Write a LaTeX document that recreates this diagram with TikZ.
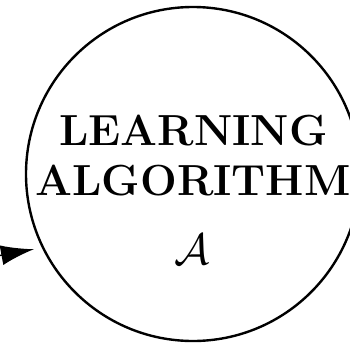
\RequirePackage{fix-cm}
\documentclass[tikz,border=0pt]{standalone}
\usetikzlibrary{arrows.meta}
\tikzset{
  algcircle/.style={circle, draw=black, line width=2.4pt, minimum size=334pt, inner sep=0pt},
  bigword/.style={anchor=base, inner sep=0pt, font=\fontsize{43.5}{52}\selectfont\bfseries},
  calword/.style={anchor=base, inner sep=0pt, font=\fontsize{44}{52}\selectfont},
  inarrow/.style={line width=1.4pt, -{Latex[length=33pt,width=20pt]}, shorten >=8pt}
}
\begin{document}
\begin{tikzpicture}[x=1pt,y=-1pt]
\useasboundingbox (0,0) rectangle (350,348);
\clip (0,0) rectangle (350,348);
\node[algcircle] (alg) at (193,174) {};
\node[bigword] (l1) at (193.5,145) {LEARNING};
\node[bigword] (l2) at (193,195) {ALGORITHM};
\node[calword] (a) at (192.5,264) {$\mathcal{A}$};
\coordinate (src) at (-30,261);
\draw[inarrow] (src) -- (alg.206);
\end{tikzpicture}
\end{document}
